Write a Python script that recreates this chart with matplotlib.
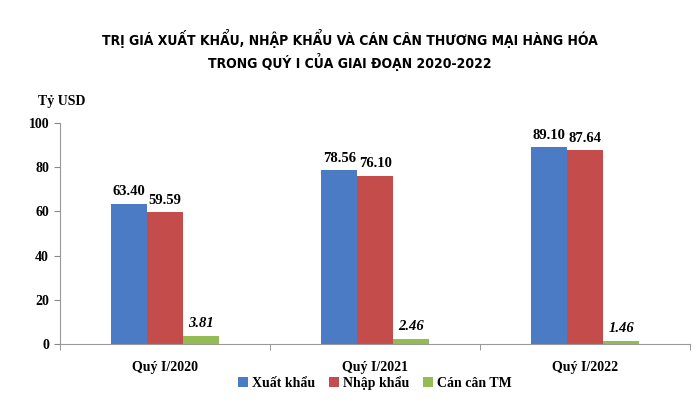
import numpy as np
import matplotlib
matplotlib.use('Agg')
import matplotlib.pyplot as plt
from matplotlib import font_manager

quarters = ['Quý I/2020', 'Quý I/2021', 'Quý I/2022']
series_names = ['Xuất khẩu', 'Nhập khẩu', 'Cán cân TM']
xuat_khau = [63.40, 78.56, 89.10]
nhap_khau = [59.59, 76.10, 87.64]
can_can = [3.81, 2.46, 1.46]

colors = ['#4a7bc4', '#c44d4b', '#93bd52']
serif = ['Liberation Serif', 'DejaVu Serif']


def find_condensed_bold():
	# the title in the picture is a condensed heavy sans
	for f in font_manager.fontManager.ttflist:
		narrow = ('Condensed' in f.name or 'Narrow' in f.name
			or 'ondensed' in str(f.stretch) or 'Condensed' in f.fname or 'Narrow' in f.fname)
		heavy = str(f.weight) in ('bold', '700', '800', '900', 'heavy', 'black') or \
			(isinstance(f.weight, int) and f.weight >= 700)
		if narrow and heavy and 'Oblique' not in f.fname and 'Italic' not in f.fname:
			return font_manager.FontProperties(fname=f.fname), True
	return font_manager.FontProperties(family='Liberation Sans', weight='bold'), False


title_prop, is_narrow = find_condensed_bold()
title_prop.set_size(10 if is_narrow else 9.3)

fig = plt.figure(figsize=(7, 4.2), dpi=100)
ax = fig.add_axes([0.086, 0.181, 0.9, 0.526])

x = np.arange(len(quarters))
w = 0.171
all_vals = [xuat_khau, nhap_khau, can_can]
for i, (vals, name, c) in enumerate(zip(all_vals, series_names, colors)):
	pos = x + (i - 1) * w
	ax.bar(pos, vals, width=w, color=c, label=name, linewidth=0)
	for p, v in zip(pos, vals):
		ax.text(p, v + 2.5, f"{v:.2f}", ha='center', va='bottom',
			fontsize=10.5, fontweight='bold', family=serif,
			style='italic' if i == 2 else 'normal')

ax.set_xlim(-0.5, 2.5)
ax.set_ylim(0, 100)
ax.set_yticks(range(0, 101, 20))
ax.set_xticks(x)
ax.set_xticklabels(quarters)
ax.set_xticks([-0.5, 0.5, 1.5, 2.5], minor=True)
ax.tick_params(axis='x', which='major', length=0, pad=12)
ax.tick_params(axis='x', which='minor', length=4, color='#888888')
ax.tick_params(axis='y', length=4, color='#888888', pad=4)
for lbl in ax.get_xticklabels() + ax.get_yticklabels():
	lbl.set_family(serif)
	lbl.set_fontweight('bold')
	lbl.set_fontsize(10)

for s in ['top', 'right']:
	ax.spines[s].set_visible(False)
for s in ['left', 'bottom']:
	ax.spines[s].set_color('#999999')
	ax.spines[s].set_linewidth(0.8)

fig.text(0.055, 0.75, 'Tỷ USD', fontsize=10, fontweight='bold', family=serif)

fig.text(0.5, 0.908, 'TRỊ GIÁ XUẤT KHẨU, NHẬP KHẨU VÀ CÁN CÂN THƯƠNG MẠI HÀNG HÓA',
	ha='center', va='center', fontproperties=title_prop, color='black')
fig.text(0.5, 0.852, 'TRONG QUÝ I CỦA GIAI ĐOẠN 2020-2022',
	ha='center', va='center', fontproperties=title_prop, color='black')

leg = ax.legend(loc='center', bbox_to_anchor=(0.5, -0.175), ncol=3,
	frameon=False, handlelength=0.7, handleheight=0.7, handletextpad=0.3,
	columnspacing=1.0, prop={'family': serif, 'weight': 'bold', 'size': 10})

fig.savefig('out.png', dpi=100)
